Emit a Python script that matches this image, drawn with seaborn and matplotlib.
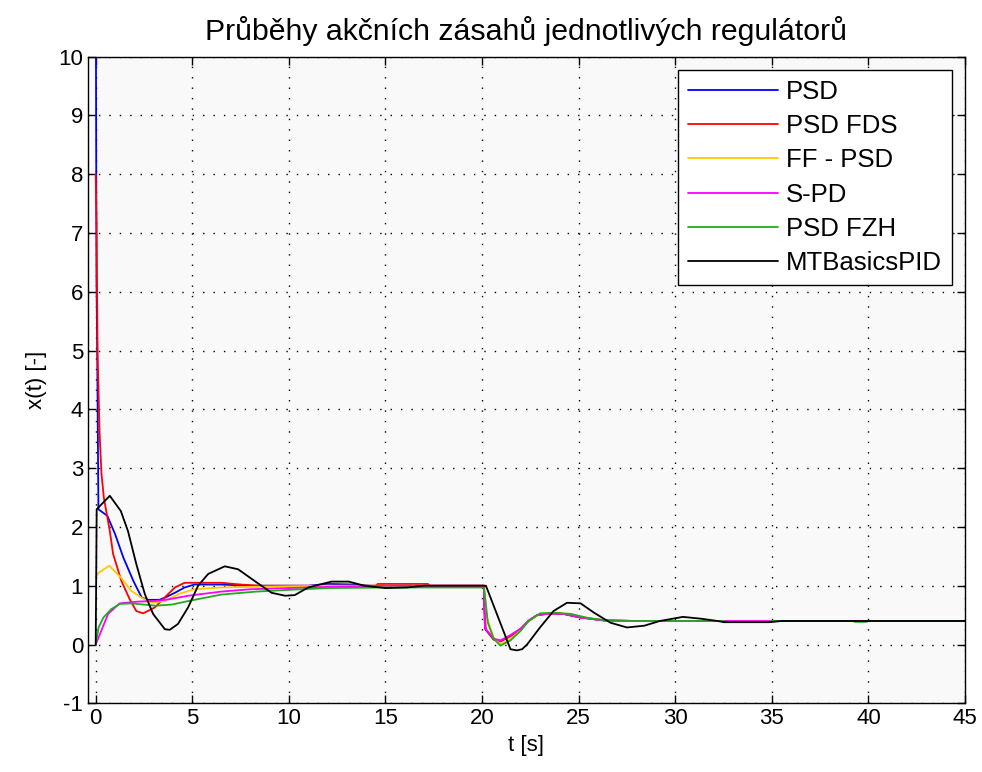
import matplotlib
matplotlib.use('Agg')
import matplotlib.pyplot as plt
import pandas as pd
import seaborn as sns

# Data
psd_t = [0, 0.04, 0.08, 0.14, 0.6, 1.0, 1.43, 1.95, 2.38, 2.7, 3.3, 3.6, 4.1, 4.6, 5.1, 6.5, 8.0,
         11.0, 12.0, 13.5, 14.2, 20.1, 20.12, 20.15, 20.6, 20.95, 21.47, 21.99, 22.41, 22.85,
         23.54, 24.23, 25.09, 26.3, 28.0, 45]
psd_x = [12, 6.2, 4.9, 2.3, 2.19, 1.88, 1.48, 1.08, 0.8, 0.76, 0.76, 0.8, 0.88, 0.97, 1.02, 1.02, 1.0,
         1.0, 1.03, 1.02, 1.0, 1.0, 0.69, 0.27, 0.09, 0.06, 0.15, 0.26, 0.40, 0.5,
         0.53, 0.52, 0.46, 0.41, 0.4, 0.4]

fds_t = [0, 0.04, 0.1, 0.2, 0.3, 0.42, 0.73, 0.9, 1.33, 1.76, 2.1, 2.45, 2.7, 3.06, 3.57, 4.1, 4.6,
         6.5, 7.5, 8.5, 14.5, 14.6, 17.2, 17.3, 20.1, 20.12, 20.2, 20.6, 20.95, 21.47, 21.99, 22.41,
         22.85, 23.54, 24.23, 25.09, 26.3, 28.0, 45]
fds_x = [8.0, 7.2, 4.9, 3.6, 2.9, 2.5, 1.93, 1.54, 1.08, 0.77, 0.57, 0.53, 0.57, 0.63, 0.8, 0.97, 1.05,
         1.05, 1.02, 1.0, 1.0, 1.03, 1.03, 1.0, 1.0, 0.6, 0.25, 0.08, 0.05, 0.14, 0.26, 0.40,
         0.5, 0.53, 0.52, 0.46, 0.41, 0.4, 0.4]

ff_t = [0, 0.15, 0.7, 1.3, 1.85, 2.35, 2.9, 3.6, 4.3, 5.1, 6.5, 8.0, 10.0, 12.0, 20.1, 20.25, 20.6,
        20.95, 21.47, 21.99, 22.41, 23.0, 23.8, 24.6, 25.5, 26.7, 45]
ff_x = [1.15, 1.22, 1.34, 1.14, 0.91, 0.8, 0.71, 0.74, 0.86, 0.94, 0.97, 0.98, 0.99, 1.0, 1.0, 0.45, 0.12,
        0.0, 0.09, 0.24, 0.4, 0.52, 0.54, 0.51, 0.45, 0.4, 0.4]

spd_t = [0, 0.64, 1.24, 2.2, 3.1, 3.8, 4.8, 6.5, 8.0, 10.0, 12.0, 15.0, 20.1, 20.12, 20.15, 20.6,
         20.95, 21.47, 21.99, 22.41, 22.85, 23.54, 24.23, 25.09, 26.3, 28.0, 45]
spd_x = [0, 0.52, 0.70, 0.73, 0.74, 0.77, 0.83, 0.9, 0.94, 0.96, 0.98, 1.0, 1.0, 0.7, 0.28, 0.1,
         0.07, 0.16, 0.27, 0.41, 0.5, 0.53, 0.52, 0.46, 0.41, 0.4, 0.4]

fzh_t = [0, 0.15, 0.4, 0.8, 1.25, 1.85, 3.1, 3.95, 4.8, 6.5, 8.3, 10.0, 12.0, 15.0, 20.1, 20.3, 20.6,
         20.95, 21.47, 21.99, 22.41, 23.0, 23.8, 24.6, 25.5, 26.7, 32.5, 32.6, 34.9, 35.0, 39.2, 39.3,
         39.9, 40.0, 45]
fzh_x = [0, 0.29, 0.46, 0.6, 0.69, 0.7, 0.66, 0.68, 0.74, 0.85, 0.9, 0.93, 0.96, 0.97, 0.97, 0.37, 0.1,
         -0.02, 0.07, 0.23, 0.4, 0.53, 0.54, 0.52, 0.45, 0.4, 0.4, 0.385, 0.385, 0.4, 0.4, 0.385,
         0.385, 0.4, 0.4]

mtb_t = [0, 0.05, 0.73, 1.3, 1.67, 2.1, 2.54, 2.97, 3.58, 3.83, 4.26, 4.78, 5.3, 5.82, 6.68, 7.37, 8.23,
         9.1, 9.8, 10.3, 11.0, 12.2, 13.1, 13.9, 15.0, 16.1, 17.0, 20.2, 21.47, 21.8, 22.07, 22.33,
         23.0, 23.7, 24.4, 25.1, 25.8, 26.65, 27.5, 28.4, 29.2, 30.4, 31.3, 32.2, 32.5, 34.9, 35.5, 45]
mtb_x = [0, 2.3, 2.53, 2.27, 1.93, 1.37, 0.86, 0.52, 0.26, 0.25, 0.35, 0.63, 1.0, 1.2, 1.33, 1.28, 1.08,
         0.88, 0.83, 0.84, 0.97, 1.07, 1.07, 1.0, 0.96, 0.97, 1.0, 1.0, -0.08, -0.1, -0.08, 0.0,
         0.29, 0.57, 0.71, 0.70, 0.54, 0.37, 0.29, 0.32, 0.40, 0.47, 0.44, 0.40, 0.38, 0.38, 0.4, 0.4]

labels = ['PSD', 'PSD FDS', 'FF - PSD', 'S-PD', 'PSD FZH', 'MTBasicsPID']
colors = ['#0000ff', '#ff0000', '#ffc800', '#ff00ff', '#22aa22', '#000000']

# long-form table for seaborn
series = [(psd_t, psd_x), (fds_t, fds_x), (ff_t, ff_x), (spd_t, spd_x), (fzh_t, fzh_x), (mtb_t, mtb_x)]
frames = []
for name, (t, x) in zip(labels, series):
    frames.append(pd.DataFrame({'t': t, 'x': x, 'reg': name}))
df = pd.concat(frames, ignore_index=True)

sns.set_style('ticks')
plt.rcParams['font.family'] = ['Liberation Sans', 'DejaVu Sans']
plt.rcParams['axes.unicode_minus'] = False

fig = plt.figure(figsize=(9.82, 7.72), dpi=100)
ax = fig.add_axes([0.0896, 0.089, 0.8931, 0.8376])
ax.set_facecolor('#f9f9f9')

sns.lineplot(data=df, x='t', y='x', hue='reg', hue_order=labels, palette=colors,
             estimator=None, sort=False, linewidth=1.3, ax=ax)

ax.set_xlim(-0.4, 45)
ax.set_ylim(-1, 10)
ax.set_xticks(range(0, 46, 5))
ax.set_yticks(range(-1, 11))
ax.grid(True, color='black', linestyle=(0, (1, 6.5)), linewidth=1.0)
ax.tick_params(direction='in', length=6, width=1, labelsize=16, top=True, right=True,
               colors='black', labelcolor='black')
for s in ax.spines.values():
    s.set_color('black')
    s.set_linewidth(1.0)

ax.set_xlabel('t [s]', fontsize=16, labelpad=4, color='black')
ax.set_ylabel('x(t) [-]', fontsize=16, labelpad=8, color='black')
ax.set_title('Průběhy akčních zásahů jednotlivých regulátorů', fontsize=21.8, pad=12, color='black')

handles, labs = ax.get_legend_handles_labels()
leg = ax.legend(handles, labs, loc='upper right', fontsize=18.5, handlelength=3.5, handletextpad=0.3,
                labelspacing=0.4, borderaxespad=0.5, borderpad=0.4, fancybox=False,
                edgecolor='black', framealpha=1)
leg.get_frame().set_linewidth(1.0)
for txt in leg.get_texts():
    txt.set_color('black')

fig.savefig('out.png', dpi=100, facecolor='white')
